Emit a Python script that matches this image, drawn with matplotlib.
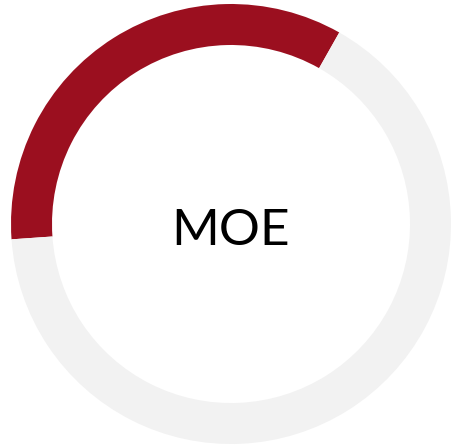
import matplotlib
matplotlib.use("Agg")
import matplotlib.pyplot as plt

# donut: share of MOE vs the rest
labels = ["MOE", "rest"]
values = [34.3, 65.7]
colors = ["#9B0F1F", "#F2F2F2"]
center_text = "MOE"

fig = plt.figure(figsize=(4.52, 4.48), dpi=100)
ax = fig.add_axes([0, 0, 1, 1])

ax.pie(values, colors=colors, startangle=184, counterclock=False,
       radius=220, center=(231, 224),
       wedgeprops=dict(width=41, edgecolor="none", linewidth=0))

ax.text(231, 203, center_text, ha="center", va="baseline",
        fontsize=37, family=["Lato", "DejaVu Sans"], color="black")

ax.set_xlim(0, 452)
ax.set_ylim(0, 448)
ax.set_aspect("equal")
ax.axis("off")

fig.savefig("out.png", dpi=100, facecolor="white")
